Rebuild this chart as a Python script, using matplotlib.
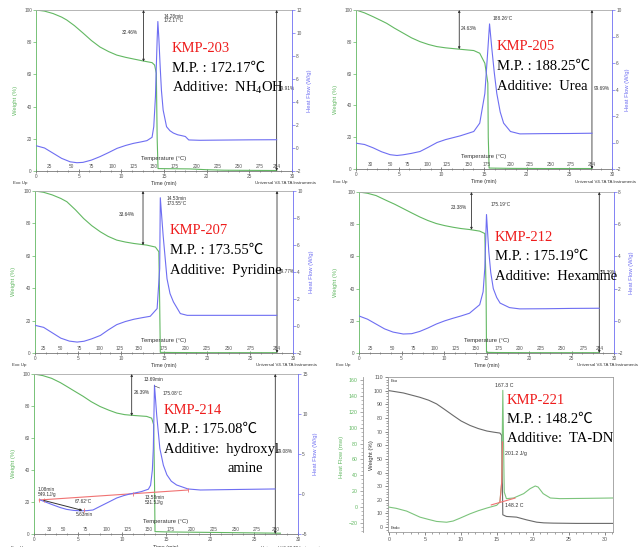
import matplotlib
matplotlib.use('Agg')
import matplotlib.pyplot as plt
from matplotlib.ticker import MultipleLocator

plt.rcParams['mathtext.fontset'] = 'custom'
plt.rcParams['mathtext.rm'] = 'Liberation Serif'

# ---------------- data ----------------
# Panel 1: KMP-203
p1_tw = [0, 1, 2, 3, 3.6, 4.5, 5.55, 6.5, 7.5, 8.5, 9.46, 10.5, 11.4, 12.6, 13.6, 13.9, 14.1, 14.2, 14.3, 16, 18, 20, 22, 25, 28.2]
p1_w = [100, 99.3, 97.8, 95.6, 93.8, 90.3, 85.5, 81, 77, 74.2, 72, 70.6, 69.6, 68.3, 67.3, 65.8, 60.7, 20, 1.5, 1.4, 1.3, 0.8, 0.5, 0.4, 0.3]
p1_th = [0, 1, 2, 3, 4, 4.8, 5.5, 6.5, 7.5, 8.5, 9.5, 10.5, 11.4, 12.3, 13, 13.6, 13.8, 14.0, 14.1, 14.2, 14.28, 14.4, 14.55, 14.7, 14.9, 15.3, 15.7, 16.1, 16.6, 17.1, 17.5, 17.9, 19.2, 22, 25, 28.2]
p1_h = [0.2, 0.0, -0.45, -0.9, -1.2, -1.28, -1.25, -1.05, -0.75, -0.4, -0.03, 0.22, 0.4, 0.53, 0.64, 0.93, 1.85, 4.5, 7.1, 9.5, 11.0, 9.5, 7.1, 5.0, 3.3, 1.85, 1.5, 1.3, 1.15, 1.07, 1.0, 0.7, 0.67, 0.69, 0.71, 0.72]
p1_temp = [25, 50, 75, 100, 125, 150, 175, 200, 225, 250, 275, 284]
p1_temp_t = [1.56, 4.1, 6.5, 9.0, 11.4, 13.8, 16.2, 18.8, 21.3, 23.8, 26.2, 28.2]

# Panel 2: KMP-205
p2_tw = [0, 1, 2, 3, 3.6, 4.5, 5.55, 6.5, 7.5, 8.5, 9.46, 10.5, 12.2, 13.8, 14.5, 15.1, 15.45, 15.5, 15.6, 18, 22, 27.65]
p2_w = [100, 98.2, 95.8, 93.2, 91.6, 88.6, 85.4, 82.5, 80.1, 78.3, 77, 76.2, 75.3, 74.5, 72.8, 66.5, 54, 20, 0.6, 0.4, 0.3, 0.3]
p2_th = [0, 1, 2, 3, 4, 4.8, 5.5, 6.5, 7.5, 8.5, 9.5, 10.5, 12.2, 13.8, 14.5, 15.1, 15.45, 15.65, 15.9, 16.2, 16.5, 16.9, 17.3, 18.1, 19.2, 22, 25, 27.65]
p2_h = [-0.05, -0.15, -0.4, -0.7, -0.92, -0.98, -0.93, -0.82, -0.68, -0.35, 0.0, 0.22, 0.5, 0.83, 1.46, 3.7, 7.0, 8.95, 7.2, 5.3, 3.7, 2.3, 1.46, 0.83, 0.65, 0.67, 0.68, 0.7]
p2_temp = [30, 50, 75, 100, 125, 150, 175, 200, 225, 250, 275, 284]
p2_temp_t = [1.72, 4.0, 6.0, 8.37, 10.6, 13.2, 15.3, 18.1, 20.4, 22.8, 25.2, 27.65]

# Panel 3: KMP-207
p3_tw = [0, 1, 2, 3, 3.7, 4.7, 5.66, 6.6, 7.6, 8.5, 9.5, 10.5, 11.5, 13, 14, 14.4, 14.5, 14.57, 16, 20, 28.1]
p3_w = [100, 99.2, 97.6, 95.4, 93.4, 88.4, 83, 78.6, 74.8, 72, 69.7, 68.5, 67.6, 66.6, 65.4, 62.5, 30, 0.4, 0.3, 0.2, 0.2]
p3_th = [0, 1, 2, 3, 4, 4.9, 5.7, 6.6, 7.6, 8.5, 9.5, 10.5, 11.5, 12.5, 13.4, 14.2, 14.5, 14.57, 14.9, 15.35, 15.7, 16.1, 16.9, 17.7, 20, 24, 28.1]
p3_h = [0.05, -0.1, -0.5, -0.9, -1.12, -1.19, -1.13, -0.95, -0.7, -0.3, 0.1, 0.33, 0.5, 0.62, 0.72, 1.29, 4.26, 9.5, 6.7, 3.5, 2.4, 1.78, 0.92, 0.79, 0.79, 0.79, 0.79]
p3_temp = [25, 50, 75, 100, 125, 150, 175, 200, 225, 250, 275, 284]
p3_temp_t = [1.0, 2.95, 5.15, 7.5, 9.9, 12.05, 14.96, 17.5, 20.0, 22.5, 25.04, 28.06]

# Panel 4: KMP-212
p4_tw = [0, 1, 2, 3.2, 4.2, 5.2, 6.2, 7.15, 8.1, 9.1, 10.1, 11.07, 12, 13, 14.2, 14.8, 14.95, 15.0, 16, 20, 28.27]
p4_w = [100, 99.2, 97.8, 94.8, 92.4, 89.7, 87, 84.5, 82.3, 80.4, 79.1, 78.1, 77.3, 76.7, 75.7, 74.2, 40, 0.4, 0.3, 0.2, 0.2]
p4_th = [0, 1, 2, 3, 4, 5.2, 6.2, 7.15, 8.1, 9.1, 10.1, 11.07, 12, 13, 14.2, 14.6, 14.8, 15.0, 15.27, 15.5, 15.8, 16.2, 16.6, 17.7, 18.9, 22, 25, 28.27]
p4_h = [0.3, 0.1, -0.2, -0.5, -0.7, -0.82, -0.8, -0.66, -0.45, -0.2, 0.0, 0.16, 0.3, 0.47, 1.0, 1.8, 3.26, 6.6, 4.3, 3.0, 2.0, 1.45, 1.1, 0.82, 0.74, 0.75, 0.77, 0.78]
p4_temp = [25, 50, 75, 100, 125, 150, 175, 200, 225, 250, 275, 284]
p4_temp_t = [1.37, 3.93, 6.44, 8.91, 11.39, 13.74, 16.37, 18.92, 21.36, 23.83, 26.4, 28.27]

# Panel 5: KMP-214
p5_tw = [0, 1, 2, 3, 3.7, 4.6, 5.6, 6.5, 7.5, 8.5, 9.4, 10.3, 11.3, 12.8, 13.37, 13.6, 13.7, 13.75, 15, 20, 28]
p5_w = [100, 99.0, 97.3, 94.6, 92.3, 89.3, 86, 82.7, 79.7, 77.4, 75.6, 74.6, 74.1, 73.5, 72.4, 68.3, 30, 1.5, 1.3, 1.0, 0.5]
p5_th = [0.73, 2.0, 3.0, 3.7, 4.5, 5.2, 6.0, 6.7, 7.5, 8.5, 9.4, 10.2, 10.9, 12.2, 13.0, 13.25, 13.45, 13.56, 13.69, 13.8, 13.94, 14.3, 14.7, 15.1, 15.6, 16.2, 17.5, 18.9, 22, 27.4]
p5_h = [-0.75, -1.3, -1.7, -1.92, -2.05, -2.1, -2.08, -2.0, -1.55, -1.0, -0.5, -0.2, 0.0, 0.3, 0.6, 1.1, 3.0, 5.7, 13.6, 12.0, 9.9, 5.7, 3.6, 2.4, 1.6, 1.13, 0.63, 0.5, 0.55, 0.63]
p5_base_t = [0.6, 17.5]
p5_base_h = [-0.75, 0.5]
p5_mark_t = [0.6, 1.08, 5.63, 11.2, 17.5]
p5_mark_h = [-0.75, -0.72, -2.05, 0.05, 0.5]
p5_temp = [33, 50, 75, 100, 125, 150, 175, 200, 225, 250, 275, 280]
p5_temp_t = [1.71, 3.3, 5.89, 8.24, 10.6, 13.0, 15.5, 17.9, 20.4, 22.9, 25.33, 27.5]

# Panel 6: KMP-221
p6_tw = [0, 2, 4.3, 5.5, 6.6, 7.7, 8.9, 10, 11.25, 12.4, 13.6, 14.5, 15.4, 15.65, 15.8, 16.3, 17.7, 19.1, 20.5, 21.5, 22.8, 26, 31.06]
p6_w = [100, 98.3, 95.1, 93, 90.3, 86.3, 81.8, 77.8, 74.5, 72.2, 70.4, 69.6, 68.9, 67.2, 9, 7.8, 7.3, 5.3, 3.6, 3.1, 2.9, 2.7, 2.7]
p6_th = [0, 1, 2.45, 4.3, 5.5, 6.6, 8.0, 8.9, 9.86, 11.25, 12.4, 13.6, 14.95, 15.4, 15.65, 15.8, 16.0, 16.3, 17.3, 18.7, 19.6, 20.3, 20.7, 21.4, 22.4, 23.75, 27, 31.06]
p6_h = [0, -1.5, -5, -12.6, -15.5, -18, -19, -17.5, -13.9, -8.4, -4.5, -1.1, 2.3, 6.5, 31.7, 147, 19, 10.7, 11.5, 17, 23.3, 26.6, 25.3, 17, 11.5, 10.7, 11, 11.5]
p6_base_t = [14.2, 17.5]
p6_base_h = [2.8, 11.4]
p6_edge_t = [15.4, 15.65, 15.75]
p6_edge_h = [6.5, 31.7, 82]

# ---------------- styling ----------------
W, H = 642, 547
fig = plt.figure(figsize=(W / 100, H / 100), dpi=100)
GREEN = '#62b862'
BLUE = '#6e6ef2'
RED = '#f07272'
DARK = '#333333'
TICK = '#555555'
SANS = 'Liberation Sans'
SERIF = ['Liberation Serif', 'Noto Sans CJK SC']
SMALL = 3.4
plt.rcParams['font.family'] = [SANS, 'DejaVu Sans']


def add_ax(x0, y0, x1, y1):
    return fig.add_axes([x0 / W, 1 - y1 / H, (x1 - x0) / W, (y1 - y0) / H])


def ftext(x, y, s, **kw):
    kw.setdefault('ha', 'center')
    kw.setdefault('va', 'center')
    fig.text(x / W, 1 - y / H, s, **kw)


def ta_axes(box, hf_lim, hf_ticks, temps, temp_t, wlab_x, hlab_x, footer_y):
    x0, y0, x1, y1 = box
    ax = add_ax(*box)
    ax.set_xlim(0, 30)
    ax.set_ylim(0, 100)
    ax2 = ax.twinx()
    ax2.set_ylim(*hf_lim)
    ax2.set_yticks(hf_ticks)
    ax.set_xticks(range(0, 31, 5))
    ax.xaxis.set_minor_locator(MultipleLocator(1.25))
    ax.set_yticks(range(0, 101, 20))
    for a in (ax, ax2):
        a.tick_params(labelsize=SMALL, length=2, width=0.5, colors=TICK, pad=1)
    ax.tick_params(axis='x', which='minor', length=1.3, width=0.4, color=TICK, direction='inout')
    ax.tick_params(axis='x', which='major', direction='inout', length=2.5)
    ax.tick_params(axis='y', color=GREEN)
    ax2.tick_params(axis='y', color=BLUE)
    for s in ('left', 'top', 'bottom'):
        ax2.spines[s].set_visible(False)
    ax.spines['right'].set_visible(False)
    ax.spines['left'].set_color(GREEN)
    ax2.spines['right'].set_color(BLUE)
    ax.spines['bottom'].set_color('#777777')
    ax.spines['top'].set_color('#aaaaaa')
    for s in ax.spines.values():
        s.set_linewidth(0.6)
    ax2.spines['right'].set_linewidth(0.6)
    for v, t in zip(temps, temp_t):
        ax.annotate(str(v), xy=(t, 0), xycoords=('data', 'axes fraction'), xytext=(0, 1.2),
                    textcoords='offset points', ha='center', va='bottom', fontsize=SMALL, color=TICK)
    ax.annotate('Temperature (°C)', xy=(0.5, 0), xycoords='axes fraction', xytext=(0, 7),
                textcoords='offset points', ha='center', va='bottom', fontsize=4.2, color=DARK)
    ftext(wlab_x, y0 + 0.56 * (y1 - y0), 'Weight (%)', rotation=90, color=GREEN, fontsize=4.2)
    ftext(hlab_x, (y0 + y1) / 2, 'Heat Flow (W/g)', rotation=90, color=BLUE, fontsize=4.2)
    ftext(x0 - 16, footer_y, 'Exo Up', fontsize=3.2, color=DARK)
    ftext((x0 + x1) / 2, footer_y, 'Time (min)', fontsize=3.8, color=DARK)
    ftext(x1 + 24, footer_y, 'Universal V4.7A TA Instruments', fontsize=3.2, color=DARK, ha='right')
    return ax, ax2


def dbl_arrow(ax, t, ytop, ybot):
    ax.annotate('', xy=(t, ybot), xytext=(t, ytop),
                arrowprops=dict(arrowstyle='<|-|>', mutation_scale=3, lw=0.6, color=DARK,
                                shrinkA=0, shrinkB=0))


def small(ax, x, y, s, ha='left', **kw):
    ax.text(x, y, s, fontsize=SMALL, color=DARK, ha=ha, va='center', **kw)


def label_block(x, y, name, mp, additive, extra=None):
    ftext(x, y, name, color='#ee1c1c', fontsize=10.5, family=SERIF, ha='left')
    ftext(x, y + 19.5, mp, color='black', fontsize=10.5, family=SERIF, ha='left')
    ftext(x, y + 39, additive, color='black', fontsize=10.5, family='Liberation Serif', ha='left')


LW = 0.8

# ---------- Panel 1 ----------
ax, ax2 = ta_axes((36, 10, 292, 171), (-2, 12), range(-2, 13, 2), p1_temp, p1_temp_t, 15, 310, 183)
ax.plot(p1_tw, p1_w, color=GREEN, lw=LW)
ax2.plot(p1_th, p1_h, color=BLUE, lw=LW)
dbl_arrow(ax, 12.6, 100, 67.9)
small(ax, 11.9, 86, '32.46%', ha='right')
dbl_arrow(ax, 28.2, 100, 0)
small(ax, 28.4, 51, '99.91%')
small(ax2, 14.9, 11.25, '14.28min\n172.17°C', linespacing=0.9)
label_block(172, 49, 'KMP-203', 'M.P. : 172.17℃', r'Additive:  NH$_\mathregular{4}$OH')

# ---------- Panel 2 ----------
ax, ax2 = ta_axes((356, 10, 612, 169), (-2, 10), range(-2, 11, 2), p2_temp, p2_temp_t, 335, 628, 182)
ax.plot(p2_tw, p2_w, color=GREEN, lw=LW)
ax2.plot(p2_th, p2_h, color=BLUE, lw=LW)
dbl_arrow(ax, 12.1, 100, 75.3)
small(ax, 12.3, 88.5, '24.63%')
dbl_arrow(ax, 27.65, 100, 0)
small(ax, 27.85, 50.8, '99.69%')
small(ax2, 16.0, 9.37, '188.26°C')
label_block(497, 47, 'KMP-205', 'M.P. : 188.25℃', 'Additive:  Urea')

# ---------- Panel 3 ----------
ax, ax2 = ta_axes((35, 191, 293, 353), (-2, 10), range(-2, 11, 2), p3_temp, p3_temp_t, 13, 312, 365)
ax.plot(p3_tw, p3_w, color=GREEN, lw=LW)
ax2.plot(p3_th, p3_h, color=BLUE, lw=LW)
dbl_arrow(ax, 12.56, 100, 66.5)
small(ax, 11.55, 85.6, '33.64%', ha='right')
dbl_arrow(ax, 28.14, 100, 0)
small(ax, 28.4, 50.5, '99.77%')
small(ax2, 15.35, 9.27, '14.53min\n173.55°C', linespacing=0.9)
label_block(170, 231, 'KMP-207', 'M.P. : 173.55℃', 'Additive:  Pyridine')

# ---------- Panel 4 ----------
ax, ax2 = ta_axes((359, 192, 614, 353), (-2, 8), range(-2, 9, 2), p4_temp, p4_temp_t, 335, 632, 365)
ax.plot(p4_tw, p4_w, color=GREEN, lw=LW)
ax2.plot(p4_th, p4_h, color=BLUE, lw=LW)
dbl_arrow(ax, 13.23, 100, 76.5)
small(ax, 12.64, 90.1, '23.38%', ha='right')
dbl_arrow(ax, 28.27, 100, 0)
small(ax, 28.43, 50.1, '99.39%')
small(ax2, 15.47, 7.24, '175.19°C')
label_block(495, 237, 'KMP-212', 'M.P. : 175.19℃', 'Additive:  Hexamine')

# ---------- Panel 5 ----------
ax, ax2 = ta_axes((34, 374, 298, 534), (-5, 15), range(-5, 16, 5), p5_temp, p5_temp_t, 13, 315, 548)
ax.plot(p5_tw, p5_w, color=GREEN, lw=LW)
ax2.plot(p5_base_t, p5_base_h, color=RED, lw=LW)
ax2.plot(p5_th, p5_h, color=BLUE, lw=LW)
ax2.plot(p5_mark_t, p5_mark_h, ls='none', marker='|', ms=3, mew=0.6, color=RED)
ax2.annotate('', xy=(5.5, -2.05), xytext=(1.1, -0.8),
             arrowprops=dict(arrowstyle='-|>', mutation_scale=3, lw=0.7, color=DARK, shrinkA=0, shrinkB=0))
dbl_arrow(ax, 11.1, 100, 73.8)
small(ax, 11.35, 88.3, '26.39%')
dbl_arrow(ax, 27.42, 100, 0)
small(ax, 27.6, 51.4, '99.08%')
small(ax2, 0.4, 0.25, '1.08min\n549.1J/g', linespacing=0.9)
small(ax2, 4.6, -0.95, '67.62°C')
small(ax2, 4.8, -2.6, '5.63min')
small(ax2, 12.6, -0.75, '13.58min\n531.5J/g', linespacing=0.9)
small(ax2, 13.6, 14.3, '13.69min', ha='center')
ax2.annotate('175.08°C', xy=(13.72, 13.5), xytext=(14.6, 12.6), fontsize=SMALL, color=DARK,
             va='center', arrowprops=dict(arrowstyle='-', lw=0.4, color=DARK, shrinkA=0, shrinkB=0))
label_block(164, 410, 'KMP-214', 'M.P. : 175.08℃', 'Additive:  hydroxyl')
ftext(227, 469, 'amine', color='black', fontsize=10.5, family='Liberation Serif', ha='left')

# ---------- Panel 6 ----------
ax = add_ax(388, 377, 613, 532)
ax.set_xlim(-0.14, 31.1)
ax.set_ylim(-3.6, 109.3)
ax.set_xticks(range(0, 31, 5))
ax.xaxis.set_minor_locator(MultipleLocator(1))
ax.set_yticks(range(0, 111, 10))
ax.yaxis.set_minor_locator(MultipleLocator(2))
ax.tick_params(labelsize=3.8, length=2.2, width=0.5, colors=TICK, pad=1.5)
ax.tick_params(which='minor', length=1.2, width=0.4, color=TICK)
for s in ax.spines.values():
    s.set_color('#9a9a9a')
    s.set_linewidth(0.6)
axh = ax.twinx()
axh.set_ylim(-31.3, 163.8)
axh.set_yticks(range(-20, 161, 20))
axh.yaxis.set_minor_locator(MultipleLocator(5))
axh.yaxis.set_ticks_position('left')
axh.yaxis.set_label_position('left')
for s in ('right', 'top', 'bottom'):
    axh.spines[s].set_visible(False)
axh.spines['left'].set_visible(True)
axh.spines['left'].set_position(('outward', 18))
axh.spines['left'].set_color('#9a9a9a')
axh.spines['left'].set_linewidth(0.6)
axh.tick_params(labelsize=3.8, length=2.2, width=0.5, colors=GREEN, pad=1.5)
axh.tick_params(which='minor', length=1.2, width=0.4, color='#888888')
axh.tick_params(axis='y', color='#888888')
ax.plot(p6_tw, p6_w, color='#6a6a6a', lw=LW)
axh.plot(p6_th, p6_h, color='#7cc47c', lw=LW)
axh.plot(p6_base_t, p6_base_h, color=RED, lw=LW)
axh.plot(p6_edge_t, p6_edge_h, color=RED, lw=LW)
ax.text(16.0, 103.5, '167.3 C', fontsize=3.8, color=DARK, ha='center', va='center')
ax.text(16.1, 53.9, '201.2 J/g', fontsize=3.8, color=DARK, ha='left', va='center')
ax.text(16.1, 16, '148.2 C', fontsize=3.8, color=DARK, ha='left', va='center')
ax.text(0.012, 0.985, 'Exo', transform=ax.transAxes, fontsize=3.0, color=DARK, va='top')
ax.text(0.012, 0.015, 'Endo', transform=ax.transAxes, fontsize=3.0, color=DARK, va='bottom')
ftext(372, 455, 'Weight (%)', rotation=90, color=DARK, fontsize=4.3)
ftext(341, 457, 'Heat Flow (mw)', rotation=90, color=GREEN, fontsize=4.3)
ftext(503, 549, 'Time (min)', fontsize=4.0, color=DARK)
label_block(507, 400, 'KMP-221', 'M.P. : 148.2℃', 'Additive:  TA-DN')

fig.savefig('out.png', dpi=100)
